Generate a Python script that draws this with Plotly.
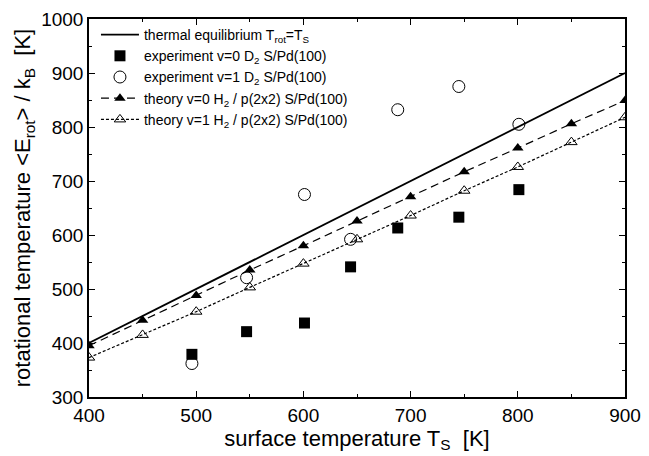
import plotly.graph_objects as go

# thermal equilibrium line
eq_x = [400, 900]
eq_y = [400, 900]

# experiment v=0 D2 (filled squares)
exp0_x = [496, 547, 601, 644, 688, 745, 801]
exp0_y = [379, 421, 437, 541, 613, 633, 684]

# experiment v=1 D2 (open circles)
exp1_x = [496, 547, 601, 644, 688, 745, 801]
exp1_y = [362, 521, 675, 592, 832, 875, 805]

# theory curves
th_x = [400, 450, 500, 550, 600, 650, 700, 750, 800, 850, 900]
th0_y = [395, 442, 488, 535, 580, 626, 671, 717, 761, 806, 849]
th1_y = [373, 415, 458, 503, 547, 592, 636, 682, 726, 772, 818]

FONT = "Liberation Sans, Arial, sans-serif"

fig = go.Figure()

fig.add_trace(go.Scatter(
    x=eq_x, y=eq_y, mode="lines",
    line=dict(color="black", width=1.8),
    name="thermal equilibrium T<sub>rot</sub>=T<sub>S</sub>"
))
fig.add_trace(go.Scatter(
    x=exp0_x, y=exp0_y, mode="markers",
    marker=dict(symbol="square", size=11, color="black"),
    name="experiment v=0 D<sub>2</sub> S/Pd(100)"
))
fig.add_trace(go.Scatter(
    x=exp1_x, y=exp1_y, mode="markers",
    marker=dict(symbol="circle-open", size=12, color="black", line=dict(width=1)),
    name="experiment v=1 D<sub>2</sub> S/Pd(100)"
))
fig.add_trace(go.Scatter(
    x=th_x, y=th0_y, mode="lines+markers",
    line=dict(color="black", width=1.2, dash="8px,5px"),
    marker=dict(symbol="triangle-up", size=10, color="black"),
    name="theory v=0 H<sub>2</sub> / p(2x2) S/Pd(100)"
))
fig.add_trace(go.Scatter(
    x=th_x, y=th1_y, mode="lines+markers",
    line=dict(color="black", width=1.2, dash="3px,2px"),
    marker=dict(symbol="triangle-up-open", size=10, color="black", line=dict(width=1)),
    name="theory v=1 H<sub>2</sub> / p(2x2) S/Pd(100)"
))

axis_common = dict(
    showgrid=False, zeroline=False, automargin=False,
    showline=True, linecolor="black", linewidth=1.5,
    mirror="ticks", ticks="inside", ticklen=6, tickwidth=1.2, tickcolor="black",
    tickfont=dict(size=19, color="black", family=FONT),
)

fig.update_xaxes(
    range=[400, 900], dtick=100,
    minor=dict(dtick=50, ticks="inside", ticklen=3, tickcolor="black"),
    title=dict(text="surface temperature T<sub>S</sub>  [K]", font=dict(size=22, color="black", family=FONT), standoff=2),
    **axis_common
)
fig.update_yaxes(
    range=[300, 1000], dtick=100,
    minor=dict(dtick=50, ticks="inside", ticklen=3, tickcolor="black"),
    title=dict(text="rotational temperature &lt;E<sub>rot</sub>&gt; / k<sub>B</sub>  [K]", font=dict(size=22, color="black", family=FONT), standoff=4),
    **axis_common
)

fig.update_layout(
    width=649, height=456,
    margin=dict(l=89, r=24, t=19, b=59),
    paper_bgcolor="white", plot_bgcolor="white",
    font=dict(family=FONT, color="black"),
    legend=dict(
        x=0.013, y=1.0, xanchor="left", yanchor="top",
        bgcolor="rgba(0,0,0,0)", borderwidth=0,
        font=dict(size=14, color="black", family=FONT),
        tracegroupgap=0, itemwidth=38,
    ),
)

# drop the default body margin so the figure sits at the top-left of the page
fig.write_html("out.html", config={"displayModeBar": False},
               post_script="document.body.style.margin='0';")
